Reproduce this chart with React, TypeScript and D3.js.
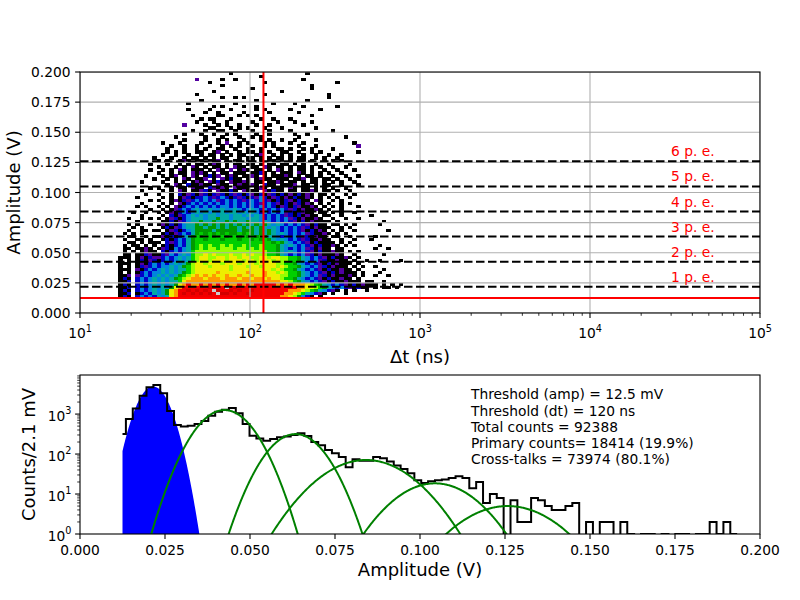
import React from "react";
import * as d3 from "d3";

// ---------- top panel: amplitude vs delta-t 2D histogram ----------
// columns are log10(dt/ns) bins, rows are amplitude bins (top row first)
const DT_LOG_START = 1.2;
const DT_LOG_STEP = 0.025;
const AMP_TOP = 0.2;
const AMP_STEP = 0.0025;

// colour level keys -> position on the nipy_spectral map
const LEVEL_KEYS = "kpbctgGlyorRw";
const LEVEL_T = [0, 0.12, 0.18, 0.27, 0.36, 0.45, 0.53, 0.64, 0.7, 0.8, 0.87, 0.93, 1.0];

const NIPY_T = [0, 0.05, 0.1, 0.15, 0.2, 0.25, 0.3, 0.35, 0.4, 0.45, 0.5, 0.55, 0.6, 0.65, 0.7, 0.75, 0.8, 0.85, 0.9, 0.95, 1.0];
const NIPY_COLORS = ["#000000", "#770088", "#880099", "#0000aa", "#0000dd", "#0077dd", "#0099dd", "#00aaaa", "#00aa88", "#009900",
  "#00bb00", "#00dd00", "#00ff00", "#bbff00", "#eeee00", "#ffcc00", "#ff9900", "#ff0000", "#dd0000", "#cc0000", "#cccccc"];

const HEAT_ROWS = [
  ".......... .......... .......k.. .......... .....k.... .......... ........",
  ".......... .......... .......... ....k..... .......... .......... ........",
  ".......... .........p .....k..k. .......... ....k..... .......... ........",
  ".......... .......... ..k....... .....k.... .......... ..k....... ........",
  ".......... .......... .....k.... .......... ......k... .......... ........",
  ".......... .......... .......... ..k....... ......k... .......... ........",
  ".......... .......... ...k...... .........k .......... .......... ........",
  ".......... .........k .......... .....k.... .......... k......... ........",
  ".......... .......... .....k..k. k......... .......... k......... ........",
  ".......... .......... k......... ...k...... .....k.... .......... ........",
  ".......... .......k.. ........k. .......k.. ..k....... .......... ........",
  ".......... .......... ...k.k.... k..k...... ....k..... ..k....... ........",
  ".......... .......k.. ..k....k.. ...k.k.... .k......k. .......... ........",
  ".......... .......... .k..k..... k.....k... ...k...... .......... ........",
  ".......... ........k. ....kk...k .k.k...... ......k... .......... ........",
  ".......... .......... k.kk...k.. ....k..k.. .k........ .......... ........",
  ".......... .........k ...k..k... ..k.....k. ..k...k... .......... ........",
  ".......... ......p... .k..k.k..k ...k..k... ....k..... .......... ........",
  ".......... .......... ..kk...k.k .k...k...k .......k.. .......... ........",
  ".......... ........k. .k..kk..k. ..k...k... .k........ .k........ ........",
  ".......... ......k... k..k..k.k. ...k..k... ..k..k.... .......... ........",
  ".......... ....k..... .k...k...k ..k.k..... ...k...... ....k..... ........",
  ".......... ......k... .k..k.k... k...k.k..k ..k....k.. .......... ........",
  ".......... .k...k.... k...k.p..k .k...k.k.. .k..k..... ......k... ........",
  ".......... ...k..k..k ..k..k.k.k ..k..k.k.. ...k...k.. .......p.. ........",
  ".......... ..k...k..k .k..kk..k. .k..k...kk .k..k.k... .k........ ........",
  ".......... ..k.k.k..k k..kp.k..k .kk.k.k..k k..k..k.k. .......k.. ........",
  ".......... .k..k..k.. k.kk.k.k.k k..kp..k.k .k..k..k.. k..k...... ........",
  ".........k ...k..k.kk .k.k.kk..k .kk.k.k.kk .k.kk..k.k ..k....... ........",
  ".......... k.k..kpk.k k.kkp.k.kk .kk.k.kk.k .k.kk.k..k .k.k...... ........",
  "........k. ..k..k.k.k k.kpk.k.kk .kk.k.kk.k k.k.k..k.. k....k.... ........",
  ".......... k...k.k.pk .k.kk.k.pk k.kk.pk.kk .k.kk.k.k. .k..k..... ........",
  "........k. .k.k.pk.kk k.k.pk.p.k pk.kk.k.pk .k.kk.k..k ..k...k... ........",
  ".......... k..k.kk.pk pk.k.kk.kk k.kkbk.k.k kk.pk.k.k. k..k...... ........",
  ".......k.. .k.kp.k.pk .kbkp.kpk. kkpk.k.kkk pk.k.kk.k. .k..k..k.. ........",
  ".........k ..k.k.pk.k kp.k.pkbkk .k.kpkk.kk k.kkp.kk.k k.k..k.... ........",
  "......k... .k..k.k.kp k.pkbk.pkk pk.kk.kkpk .kk.k.kk.k .k.k..k... ........",
  ".......... ..k.pk.bkk pkk.pkk.kp kkpk.bkk.k kkp.kk.k.k k..k...k.. ........",
  "........k. k..k.kk.pk k.bpkpk.pk kk.kpk.kkk .pk.kk.k.k .k..k..... ........",
  "......k... .k.k.pk.kk pbk.pkkbk. pkkk.pkbkk .kk.kkpk.k k.k..k.... ........",
  ".......k.. k..k.bkpbk pbkbpbkbpb kbpkbkpbkb kpkbkpk.kk .k..k.k... ........",
  ".....k.... .k.k.kpbkb bcbpbcbkbp bkbpcbkpbk pkbkkpk.k. k.k..k.... ........",
  "........k. k..kpkbpbc bcbcpbcbcb pbcbcbpkbk bpkbkk.pk. .k.k...... ........",
  "......k... .k.k.pkbcb cbcbcbcbcb cbcbpbcbpk bkpbkpk.k. k..k.k.... ........",
  ".....k.k.. k.k.pkbcbc bcbcbccbcb cbcbcbcbkp bkbpkkpk.k .k.k...k.. ........",
  "........k. .k.kpbcbct cctcctcctc bctcbcbcbc bpbkpkkpk. k..k...... ........",
  "....k..k.. k.kpkbcbct ctctctcttc tctcbcbcbc pbkbpkk.kk .k.k..k... ........",
  "......k... .k.bkpbctc tcttcttctt ctctcbcbcb pbkbkpkk.k k..k...... k.......",
  "...k..k.k. k.kpbkbctt tcttgttctt tcttcbcbcb cpbkpkkpk. .k..k..k.. ........",
  ".....k.... .kkbkpbctt gttgttgtgt tgttctcbcb cbpkbkpkkk k.k....... ...k....",
  "...k.k..k. kpkbkbcttg tgtgtgtgtg tgtgtgtctc bcbcbpkbkk .kk.k.k... ..k.....",
  "....k.k... .kbkpbcttg gtggtgtggt gtgtgtctcb cbcbpbkpkk k..k.k.... ........",
  "...k..kk.k k.kpbkbctg gggtgggggt gggtgtgtcb cbcbpkbkpk .k.k..k... ....k...",
  "..k.k.k... .kbkpbcbtg GgGgGgGggG gGgtgtgtct cbcbcpbkkp k.k.k..... ........",
  "...kk..k.k kpkbkbctgG gGGgGGgGGg GgGgGgttcb cbcbpbkpkk .kk..k.... .k......",
  "..k..kk.k. .kbkbcbtgG GgGGGgGGGg GGgGgGgtct cbcbpbkkpk k..k..k... k.......",
  "...kk.k.kk k.bpbcbtgG GGGGGGGGGG GGGGGGGgGg tcbcbpkbkk kk.k.k.... ........",
  "..k.kk.k.k .kbkbcbtgG lGlGGlGlGG lGGGlGGGgt ctcbcbpkbk kpk.k.k... ..k.....",
  "..kk.kkpk. kpbkcbctgG lGllGlllGl lGlGlGGGgt cbcbcpbkpk k.kk...... .k..k...",
  "..k.k.kpkk .bkbcbctGl llllllllll llllllGGgt ctcbcbpkbk kpkk.k.k.. ........",
  "..kk.kkbpk kbpcbctcGl lylylllyll ylylllGGgt cbcbcpbkpk kkpk..k... ...k....",
  ".kkk.kpkbp pbcbctctGl yyllyylyyl yyllyylyyl lGGgtcbcbp kbkkpk.k.. ........",
  ".k.k.kbkpb kbcbctctGl yylyyylyyy lyylyyylyl lGGgtcbcpb kkpkk.k..k ..k....k",
  ".kkk.kpkbc bcbctctgly ylyyylyyyl yyylyyyyll GGgtcbcbpk bkpkkk.k.. ........",
  ".k.k.kbpbc bcctctgGly yylyyyylyy ylyylyyyly lGGgtcbcpb kpkkk.k.k. .k......",
  ".kkk.pkbcb ctctcttGly yyyyyyylyy yyyyyyylyl GGgtcbcbpk bkkpkk.k.. ...k....",
  ".k.k.kbcbc ctctctgGly yyyyoyyyyy yoyyyoyyly lGGgtcbcbp kbkpkkk.k. ..k.....",
  ".kkp.pbcbc tctctgGlyo yoyoyyoyyo yyoyyoyyyl lGGgtcbcpb kpkkkpk.k. .k..k...",
  ".kbk.bcbct ctctgGlyoo oyoooyoooy ooyooyoyyl GGgtcbcbpk bkkpkk.k.. ........",
  ".kkb.bcbct ctcttGyooo oooooooooo oooooooooy ylGgtcbcbp kbkkpkkk.k k..k....",
  ".kbk.bcbct ctctgyoroo rorororoor ororrrrror oroooylGgt cbcbpkbkpk kk.k.k.k",
  ".kkb.bcbct ctcgyorrrr rrRrrrwrRr rrrrrrrrrr rrrooyylGg tcbcbpkbkk .k.kk.k.",
  ".kbk.bcbct ctgyorrRrR rRrwRrrRrR rrRrrrrrrr roooylGgtc bpk.k.k..k ........",
  ".kkb.kbcbt ctgyorRrRr RrRrwRRrRr rRrrrrrrrr ooylGtcbpk .k..k..... ........",
  ".kbk.bcbcb tctyorrrrr rrrrrrrrrr rrrrrrrrro oylgcbk.k. .......... ........",
].map((r) => r.replace(/ /g, ""));

const PE_LEVELS = [0.0218, 0.0426, 0.0634, 0.0842, 0.105, 0.126];
const PE_LABELS = ["1 p. e.", "2 p. e.", "3 p. e.", "4 p. e.", "5 p. e.", "6 p. e."];
const PE_LABEL_DT = 3e4;
const AMP_THRESHOLD = 0.0125;
const DT_THRESHOLD = 120;

// ---------- bottom panel: amplitude spectrum ----------
const HIST_FIRST_EDGE = 0.0125;
const HIST_START = 0.0135;
const HIST_WIDTH = 0.00202;
const HIST_COUNTS = [
  316, 750, 1380, 2880, 4680, 5310, 3310, 1200, 537, 490,
  513, 562, 676, 912, 1148, 1288, 1413, 1047, 562, 288,
  245, 214, 237, 263, 275, 299, 331, 282, 200, 166,
  126, 105, 85, 47, 74, 68, 68, 85, 78, 65,
  52, 42, 33, 22, 19, 21, 22, 23, 25, 28,
  25, 14, 20, 6, 10, 8, 0, 7, 2, 2,
  8, 7, 5, 4, 4, 5, 6, 0, 2, 0,
  2, 2, 0, 2, 1, 0, 1, 1, 0, 1,
  0, 1, 1, 0, 1, 1, 2, 1, 2, 1,
];

// gaussian fits: primary (filled) then cross-talk peaks
const FIT_MEANS = [0.0215, 0.0425, 0.0634, 0.0841, 0.1044, 0.1258];
const FIT_SIGMAS = [0.0033, 0.0057, 0.0058, 0.0095, 0.0087, 0.0101];
const FIT_AMPS = [4900, 1260, 316, 71, 18.5, 5];

const INFO_LINES = [
  "Threshold (amp) = 12.5 mV",
  "Threshold (dt) = 120 ns",
  "Total counts = 92388",
  "Primary counts= 18414 (19.9%)",
  "Cross-talks = 73974 (80.1%)",
];

const FONT = "DejaVu Sans";
const TICK_FS = 13.8;
const LABEL_FS = 18;

function Pow10({ x, y, e, anchor }: { x: number; y: number; e: number; anchor: string }) {
  return (
    <text x={x} y={y} textAnchor={anchor} fontSize={TICK_FS} fontFamily={FONT}>
      10<tspan dy={-6.5} fontSize={TICK_FS * 0.7}>{e}</tspan>
    </text>
  );
}

export default function App() {
  const top = { l: 80, r: 760, t: 72, b: 313 };
  const bot = { l: 80, r: 760, t: 375, b: 534 };

  const xDt = d3.scaleLog().domain([10, 1e5]).range([top.l, top.r]);
  const yAmp = d3.scaleLinear().domain([0, 0.2]).range([top.b, top.t]);
  const xAmp = d3.scaleLinear().domain([0, 0.2]).range([bot.l, bot.r]);
  const yCnt = d3.scaleLog().domain([1, 9500]).range([bot.b, bot.t]);
  const cmap = d3.scaleLinear<string>().domain(NIPY_T).range(NIPY_COLORS).interpolate(d3.interpolateRgb);
  const fmt3 = d3.format(".3f");

  // heatmap cells
  const cells: JSX.Element[] = [];
  HEAT_ROWS.forEach((row, i) => {
    const y0 = yAmp(AMP_TOP - i * AMP_STEP);
    const y1 = yAmp(AMP_TOP - (i + 1) * AMP_STEP);
    for (let c = 0; c < row.length; c++) {
      const idx = LEVEL_KEYS.indexOf(row[c]);
      if (idx < 0) continue;
      const x0 = xDt(Math.pow(10, DT_LOG_START + c * DT_LOG_STEP));
      const x1 = xDt(Math.pow(10, DT_LOG_START + (c + 1) * DT_LOG_STEP));
      cells.push(
        <rect key={`${i}-${c}`} x={x0} y={y0} width={x1 - x0 + 0.3} height={y1 - y0 + 0.3} fill={cmap(LEVEL_T[idx])} />
      );
    }
  });

  const dtTicks = xDt.ticks();
  const dtMajor = dtTicks.filter((t) => Math.abs(Math.log10(t) - Math.round(Math.log10(t))) < 1e-9);
  const ampTicks = d3.range(0, 0.2001, 0.025);

  // histogram step path
  const edges = [HIST_FIRST_EDGE, ...HIST_COUNTS.map((_, k) => HIST_START + k * HIST_WIDTH)];
  const yHist = (v: number) => (v > 0 ? yCnt(v) : bot.b + 30);
  const stepPts: [number, number][] = [];
  HIST_COUNTS.forEach((v, k) => {
    stepPts.push([xAmp(edges[k]), yHist(v)]);
    stepPts.push([xAmp(edges[k + 1]), yHist(v)]);
  });
  const line = d3.line();

  const gauss = (k: number, x: number) =>
    FIT_AMPS[k] * Math.exp(-((x - FIT_MEANS[k]) ** 2) / (2 * FIT_SIGMAS[k] ** 2));
  const fitCurve = (k: number) => {
    const xs = d3.range(FIT_MEANS[k] - 5 * FIT_SIGMAS[k], FIT_MEANS[k] + 5 * FIT_SIGMAS[k], FIT_SIGMAS[k] / 40);
    return line(xs.map((x) => [xAmp(x), yCnt(Math.max(gauss(k, x), 1e-3))] as [number, number]));
  };
  const primaryXs = d3.range(AMP_THRESHOLD, FIT_MEANS[0] + 5 * FIT_SIGMAS[0], 0.0001);
  const primaryArea = d3
    .area<number>()
    .x((x) => xAmp(x))
    .y0(bot.b + 5)
    .y1((x) => yCnt(Math.max(gauss(0, x), 1e-3)))(primaryXs);

  const cntTicks = yCnt.ticks().filter((t) => t <= 9500);
  const cntMajor = [1, 10, 100, 1000];
  const ampBotTicks = d3.range(0, 0.2001, 0.025);

  return (
    <svg width={800} height={600} style={{ position: "absolute", left: 0, top: 0, background: "#fff" }} fontFamily={FONT}>
      <defs>
        <clipPath id="clipTop">
          <rect x={top.l} y={top.t} width={top.r - top.l} height={top.b - top.t} />
        </clipPath>
        <clipPath id="clipBot">
          <rect x={bot.l} y={bot.t} width={bot.r - bot.l} height={bot.b - bot.t} />
        </clipPath>
      </defs>

      {/* ---- top panel ---- */}
      <g clipPath="url(#clipTop)">
        <g shapeRendering="crispEdges">{cells}</g>
        {dtMajor.map((t) => (
          <line key={`gx${t}`} x1={xDt(t)} x2={xDt(t)} y1={top.t} y2={top.b} stroke="#b0b0b0" strokeWidth={1.1} />
        ))}
        {ampTicks.map((t) => (
          <line key={`gy${t}`} x1={top.l} x2={top.r} y1={yAmp(t)} y2={yAmp(t)} stroke="#b0b0b0" strokeWidth={1.1} />
        ))}
        {PE_LEVELS.map((v) => (
          <line key={`pe${v}`} x1={top.l} x2={top.r} y1={yAmp(v)} y2={yAmp(v)} stroke="#000" strokeWidth={2} strokeDasharray="8.5,3.5" />
        ))}
        <line x1={top.l} x2={top.r} y1={yAmp(AMP_THRESHOLD)} y2={yAmp(AMP_THRESHOLD)} stroke="#ff0000" strokeWidth={2} />
        <line x1={xDt(DT_THRESHOLD)} x2={xDt(DT_THRESHOLD)} y1={top.t} y2={top.b} stroke="#ff0000" strokeWidth={2} />
      </g>
      {PE_LEVELS.map((v, i) => (
        <text key={`pl${i}`} x={xDt(PE_LABEL_DT)} y={yAmp(v) - 5} fill="#ff0000" fontSize={TICK_FS}>
          {PE_LABELS[i]}
        </text>
      ))}
      <rect x={top.l} y={top.t} width={top.r - top.l} height={top.b - top.t} fill="none" stroke="#000" strokeWidth={1.1} />
      {dtTicks.map((t) => {
        const major = dtMajor.includes(t);
        return <line key={`tx${t}`} x1={xDt(t)} x2={xDt(t)} y1={top.b} y2={top.b + (major ? 4.9 : 2.8)} stroke="#000" strokeWidth={major ? 1.1 : 0.8} />;
      })}
      {dtMajor.map((t) => (
        <Pow10 key={`lx${t}`} x={xDt(t)} y={top.b + 25} e={Math.round(Math.log10(t))} anchor="middle" />
      ))}
      {ampTicks.map((t) => (
        <g key={`ty${t}`}>
          <line x1={top.l - 4.9} x2={top.l} y1={yAmp(t)} y2={yAmp(t)} stroke="#000" strokeWidth={1.1} />
          <text x={top.l - 9.5} y={yAmp(t) + 5} textAnchor="end" fontSize={TICK_FS}>
            {fmt3(t)}
          </text>
        </g>
      ))}
      <text x={(top.l + top.r) / 2} y={363} textAnchor="middle" fontSize={LABEL_FS}>
        Δt (ns)
      </text>
      <text transform={`translate(20,${(top.t + top.b) / 2}) rotate(-90)`} textAnchor="middle" fontSize={LABEL_FS}>
        Amplitude (V)
      </text>

      {/* ---- bottom panel ---- */}
      <g clipPath="url(#clipBot)">
        <path d={primaryArea ?? undefined} fill="#0000ff" />
        <path d={line(stepPts) ?? undefined} fill="none" stroke="#000" strokeWidth={2} strokeLinejoin="miter" />
        {FIT_MEANS.slice(1).map((_, j) => (
          <path key={`fit${j}`} d={fitCurve(j + 1) ?? undefined} fill="none" stroke="#008000" strokeWidth={2} />
        ))}
      </g>
      {INFO_LINES.map((s, i) => (
        <text key={`info${i}`} x={471} y={399.3 + i * 16.2} fontSize={TICK_FS}>
          {s}
        </text>
      ))}
      <rect x={bot.l} y={bot.t} width={bot.r - bot.l} height={bot.b - bot.t} fill="none" stroke="#000" strokeWidth={1.1} />
      {ampBotTicks.map((t) => (
        <g key={`bx${t}`}>
          <line x1={xAmp(t)} x2={xAmp(t)} y1={bot.b} y2={bot.b + 4.9} stroke="#000" strokeWidth={1.1} />
          <text x={xAmp(t)} y={bot.b + 21} textAnchor="middle" fontSize={TICK_FS}>
            {fmt3(t)}
          </text>
        </g>
      ))}
      {cntTicks.map((t) => {
        const major = cntMajor.includes(t);
        return <line key={`by${t}`} x1={bot.l - (major ? 4.9 : 2.8)} x2={bot.l} y1={yCnt(t)} y2={yCnt(t)} stroke="#000" strokeWidth={major ? 1.1 : 0.8} />;
      })}
      {cntMajor.map((t) => (
        <Pow10 key={`bl${t}`} x={bot.l - 8.5} y={yCnt(t) + 6.5} e={Math.round(Math.log10(t))} anchor="end" />
      ))}
      <text x={(bot.l + bot.r) / 2} y={576} textAnchor="middle" fontSize={LABEL_FS}>
        Amplitude (V)
      </text>
      <text transform={`translate(34.5,${(bot.t + bot.b) / 2}) rotate(-90)`} textAnchor="middle" fontSize={LABEL_FS}>
        Counts/2.1 mV
      </text>
    </svg>
  );
}
